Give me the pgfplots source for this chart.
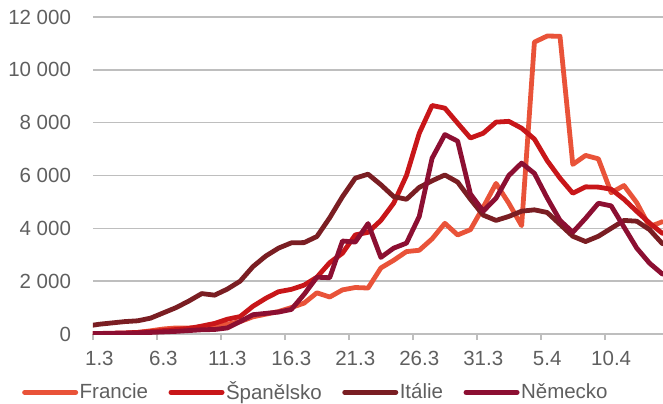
\documentclass[border=0pt]{standalone}
\usepackage{fontspec}
\setmainfont{Liberation Sans}
\usepackage{pgfplots}
\usepackage{pgfplotstable}
\pgfplotsset{compat=1.18}

\definecolor{francie}{RGB}{233,83,57}
\definecolor{spanelsko}{RGB}{200,22,25}
\definecolor{italie}{RGB}{122,30,35}
\definecolor{nemecko}{RGB}{140,15,50}
\definecolor{gridgray}{RGB}{190,190,190}
\definecolor{labelgray}{RGB}{95,95,95}

% daily values, idx 0 = 1.3, idx 31 = 1.4
\pgfplotstableread{
idx fr es it de
-1 10 15 300 10
0 10 20 370 20
1 20 30 420 20
2 30 40 470 30
3 60 60 500 40
4 120 90 600 60
5 190 130 800 80
6 230 170 1000 100
7 230 210 1250 130
8 250 300 1530 160
9 280 400 1470 170
10 370 560 1700 230
11 470 660 2000 470
12 650 1050 2550 730
13 750 1350 2950 780
14 850 1600 3250 830
15 1000 1690 3450 930
16 1170 1850 3460 1500
17 1560 2150 3690 2150
18 1400 2700 4400 2130
19 1670 3060 5200 3520
20 1760 3750 5900 3480
21 1740 3850 6050 4180
22 2500 4300 5650 2900
23 2790 4950 5200 3250
24 3120 6000 5100 3440
25 3170 7600 5550 4450
26 3600 8650 5800 6650
27 4190 8550 6020 7550
28 3750 7980 5750 7300
29 3950 7420 5100 5300
30 4800 7600 4500 4650
31 5700 8020 4300 5140
32 4950 8050 4450 6000
33 4100 7790 4650 6470
34 11050 7380 4700 6080
35 11280 6560 4600 5150
36 11270 5900 4150 4300
37 6420 5330 3700 3850
38 6760 5570 3500 4380
39 6630 5560 3700 4950
40 5350 5480 4000 4850
41 5620 5100 4300 4050
42 4970 4640 4270 3250
43 4060 4200 3950 2680
44 4250 3810 3420 2270
}\cases

\begin{document}
\fontsize{20.5bp}{24bp}\selectfont
\begin{tikzpicture}
\begin{axis}[
    scale only axis,
    width=570bp, height=317bp,
    xmin=-0.5, xmax=44.05,
    ymin=0, ymax=12000,
    scaled y ticks=false,
    axis x line*=bottom,
    axis y line*=left,
    y axis line style={draw=none},
    x axis line style={draw=gridgray, line width=1.5bp, -},
    xtick={-0.5,4.5,...,39.5},
    xticklabels={1.3,6.3,11.3,16.3,21.3,26.3,31.3,5.4,10.4},
    xticklabel style={xshift=6.4bp, yshift=-4bp},
    ytick={0,2000,...,12000},
    yticklabels={0,2 000,4 000,6 000,8 000,10 000,12 000},
    yticklabel style={xshift=-9bp},
    tick align=outside,
    major tick length=6bp,
    xtick style={draw=gridgray, line width=1.5bp},
    ytick style={draw=none},
    ymajorgrids=true,
    grid style={draw=gridgray, line width=1.5bp},
    every tick label/.append style={font=\fontsize{20.5bp}{24bp}\selectfont, text=labelgray},
    legend columns=4,
    legend style={at={(axis description cs:-0.1246,-0.184)}, anchor=west,
        draw=none, fill=none, inner sep=0pt,
        font=\fontsize{20.5bp}{24bp}\selectfont, text=labelgray,
        nodes={inner sep=1.5bp},
        /tikz/every even column/.append style={column sep=19bp}},
    legend image code/.code={\draw[#1, line width=5bp, line cap=round] (0bp,0bp) -- (51bp,0bp);},
    every axis plot/.append style={line width=4.8bp, line join=round, line cap=round, no markers},
]
\addplot[francie] table[x=idx, y=fr] {\cases};
\addlegendentry{Francie}
\addplot[spanelsko] table[x=idx, y=es] {\cases};
\addlegendentry{Španělsko}
\addplot[italie] table[x=idx, y=it] {\cases};
\addlegendentry{Itálie}
\addplot[nemecko] table[x=idx, y=de] {\cases};
\addlegendentry{Německo}
\end{axis}
\pgfresetboundingbox
\path ([xshift=-93bp,yshift=-70bp]current axis.south west) rectangle ([yshift=17bp]current axis.north east);
\end{tikzpicture}
\end{document}
